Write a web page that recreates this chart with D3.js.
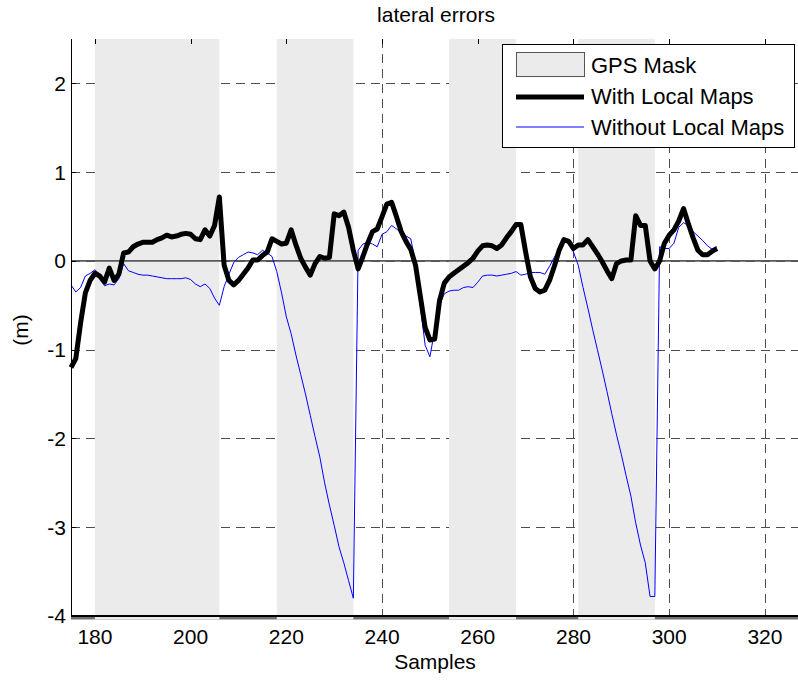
<!DOCTYPE html>
<html>
<head>
<meta charset="utf-8">
<script src="https://cdn.jsdelivr.net/npm/d3@7"></script>
<style>
  body { margin: 0; background: #ffffff; }
  text { font-family: "Liberation Sans", Arial, sans-serif; fill: #000; }
</style>
</head>
<body>
<div id="chart"></div>
<script>

// Figure dimensions and plot box
var width = 798;
var height = 680;
var plotLeft = 71;
var plotRight = 798.4;
var plotTop = 39;
var plotBottom = 616;

// Colours
var maskColor = "#ebebeb";
var gridColor = "#4d4d4d";
var blue = "#0000ff";

// Data
var samplesStart = 175;
var withMaps = [
    -1.20, -1.10, -0.70, -0.36, -0.22, -0.14, -0.17, -0.24, -0.08, -0.22,
    -0.15, 0.09, 0.10, 0.16, 0.19, 0.21, 0.21, 0.21, 0.24, 0.26,
    0.29, 0.27, 0.28, 0.30, 0.31, 0.30, 0.25, 0.24, 0.35, 0.28,
    0.40, 0.72, -0.05, -0.22, -0.27, -0.22, -0.15, -0.08, 0.01, 0.01,
    0.06, 0.10, 0.25, 0.22, 0.19, 0.20, 0.35, 0.18, 0.03, -0.07,
    -0.16, -0.03, 0.05, 0.03, 0.04, 0.53, 0.51, 0.55, 0.38, 0.12,
    -0.09, 0.05, 0.20, 0.33, 0.36, 0.50, 0.64, 0.66, 0.50, 0.33,
    0.22, 0.13, -0.05, -0.40, -0.75, -0.89, -0.88, -0.45, -0.25, -0.18,
    -0.14, -0.10, -0.06, -0.02, 0.03, 0.11, 0.17, 0.18, 0.17, 0.14,
    0.18, 0.26, 0.33, 0.41, 0.41, 0.10, -0.18, -0.31, -0.35, -0.33,
    -0.22, -0.06, 0.12, 0.24, 0.22, 0.14, 0.18, 0.18, 0.24, 0.16,
    0.08, -0.01, -0.11, -0.20, -0.03, 0.00, 0.01, 0.01, 0.51, 0.40,
    0.40, 0.00, -0.09, 0.00, 0.20, 0.29, 0.35, 0.45, 0.59, 0.42,
    0.26, 0.12, 0.07, 0.07, 0.11, 0.14
];
var withoutMaps = [
    -0.27, -0.35, -0.30, -0.17, -0.14, -0.10, -0.15, -0.28, -0.26, -0.27,
    -0.20, -0.03, -0.11, -0.13, -0.15, -0.16, -0.16, -0.17, -0.18, -0.19,
    -0.20, -0.20, -0.20, -0.20, -0.19, -0.21, -0.26, -0.29, -0.26, -0.31,
    -0.42, -0.50, -0.29, -0.15, -0.02, 0.04, 0.07, 0.10, 0.09, 0.07,
    0.12, 0.09, 0.05, -0.12, -0.36, -0.63, -0.82, -1.06, -1.28, -1.50,
    -1.74, -1.98, -2.21, -2.50, -2.75, -2.98, -3.22, -3.40, -3.60, -3.80,
    0.12, 0.19, 0.21, 0.19, 0.16, 0.30, 0.33, 0.40, 0.36, 0.32,
    0.28, 0.25, -0.03, -0.50, -0.95, -1.08, -0.78, -0.50, -0.37, -0.34,
    -0.33, -0.33, -0.30, -0.29, -0.30, -0.24, -0.17, -0.16, -0.16, -0.17,
    -0.16, -0.15, -0.14, -0.12, -0.16, -0.15, -0.13, -0.13, -0.13, -0.15,
    -0.06, 0.04, 0.14, 0.24, 0.23, 0.10, -0.05, -0.30, -0.53, -0.77,
    -1.00, -1.23, -1.47, -1.72, -1.96, -2.18, -2.42, -2.65, -2.95, -3.20,
    -3.40, -3.78, -3.78, 0.16, 0.14, 0.14, 0.20, 0.38, 0.43, 0.40,
    0.33, 0.28, 0.23, 0.17, 0.13, 0.16
];
var maskStarts = [180, 218, 254, 281];
var maskEnds = [206, 234, 268, 297];
var xTicks = [180, 200, 220, 240, 260, 280, 300, 320];
var yTicks = [-4, -3, -2, -1, 0, 1, 2];
var legendLabels = ["GPS Mask", "With Local Maps", "Without Local Maps"];

// Scales
var x = d3.scaleLinear().domain([175, 327]).range([plotLeft, plotRight]);
var y = d3.scaleLinear().domain([-4, 2.5]).range([plotBottom, plotTop]);

var svg = d3.select("#chart")
    .append("svg")
    .attr("width", width)
    .attr("height", height);

// Grid lines (the mask patches are drawn on top of them)
var grid = svg.append("g")
    .attr("stroke", gridColor)
    .attr("stroke-width", 1)
    .attr("stroke-dasharray", "9,6");

grid.selectAll(".vgrid")
    .data(xTicks)
    .enter()
    .append("line")
    .attr("x1", function(d) { return Math.round(x(d)) + 0.5; })
    .attr("x2", function(d) { return Math.round(x(d)) + 0.5; })
    .attr("y1", plotTop)
    .attr("y2", plotBottom);

grid.selectAll(".hgrid")
    .data(yTicks)
    .enter()
    .append("line")
    .attr("x1", plotLeft)
    .attr("x2", width)
    .attr("y1", function(d) { return Math.round(y(d)) + 0.5; })
    .attr("y2", function(d) { return Math.round(y(d)) + 0.5; });

// Bottom edge of the mask area plot
svg.append("line")
    .attr("x1", plotLeft)
    .attr("x2", width)
    .attr("y1", plotBottom + 2)
    .attr("y2", plotBottom + 2)
    .attr("stroke", "#707070")
    .attr("stroke-width", 3);

// GPS mask patches
var masks = d3.zip(maskStarts, maskEnds);
svg.selectAll(".mask")
    .data(masks)
    .enter()
    .append("rect")
    .attr("class", "mask")
    .attr("x", function(d) { return x(d[0]); })
    .attr("width", function(d) { return x(d[1]) - x(d[0]); })
    .attr("y", plotTop)
    .attr("height", plotBottom - plotTop + 3.5)
    .attr("fill", maskColor);

// Zero line
svg.append("line")
    .attr("x1", plotLeft)
    .attr("x2", width)
    .attr("y1", y(0))
    .attr("y2", y(0))
    .attr("stroke", "#5a5a5a")
    .attr("stroke-width", 1.8);

// Series
var line = d3.line()
    .x(function(d, i) { return x(samplesStart + i); })
    .y(function(d) { return y(d); });

svg.append("path")
    .datum(withoutMaps)
    .attr("d", line)
    .attr("fill", "none")
    .attr("stroke", blue)
    .attr("stroke-width", 1);

svg.append("path")
    .datum(withMaps)
    .attr("d", line)
    .attr("fill", "none")
    .attr("stroke", "#000")
    .attr("stroke-width", 5)
    .attr("stroke-linejoin", "round");

// Axes lines
svg.append("line")
    .attr("x1", plotLeft + 0.5).attr("x2", plotLeft + 0.5)
    .attr("y1", plotTop).attr("y2", plotBottom)
    .attr("stroke", "#000");

svg.append("line")
    .attr("x1", plotLeft).attr("x2", width)
    .attr("y1", plotBottom).attr("y2", plotBottom)
    .attr("stroke", "#000")
    .attr("stroke-width", 2);

// Ticks
svg.selectAll(".ytick")
    .data(yTicks)
    .enter()
    .append("line")
    .attr("x1", plotLeft)
    .attr("x2", plotLeft + 5)
    .attr("y1", function(d) { return Math.round(y(d)) + 0.5; })
    .attr("y2", function(d) { return Math.round(y(d)) + 0.5; })
    .attr("stroke", "#000");

svg.selectAll(".xtick")
    .data(xTicks)
    .enter()
    .append("line")
    .attr("x1", function(d) { return Math.round(x(d)) + 0.5; })
    .attr("x2", function(d) { return Math.round(x(d)) + 0.5; })
    .attr("y1", plotTop)
    .attr("y2", plotTop + 5)
    .attr("stroke", "#000");

// Tick labels
svg.selectAll(".ylabel")
    .data(yTicks)
    .enter()
    .append("text")
    .attr("x", plotLeft - 5)
    .attr("y", function(d) { return y(d); })
    .attr("dy", "0.35em")
    .attr("text-anchor", "end")
    .style("font-size", "21px")
    .text(function(d) { return d; });

svg.selectAll(".xlabel")
    .data(xTicks)
    .enter()
    .append("text")
    .attr("x", function(d) { return x(d); })
    .attr("y", 644)
    .attr("text-anchor", "middle")
    .style("font-size", "21px")
    .text(function(d) { return d; });

// Title and axis titles
svg.append("text")
    .attr("x", 436)
    .attr("y", 22)
    .attr("text-anchor", "middle")
    .style("font-size", "21px")
    .text("lateral errors");

svg.append("text")
    .attr("x", 435)
    .attr("y", 669)
    .attr("text-anchor", "middle")
    .style("font-size", "21px")
    .text("Samples");

svg.append("text")
    .attr("transform", "translate(28,330) rotate(-90)")
    .attr("text-anchor", "middle")
    .style("font-size", "21px")
    .text("(m)");

// Legend
var legend = svg.append("g");

legend.append("rect")
    .attr("x", 502.5)
    .attr("y", 44.5)
    .attr("width", 292)
    .attr("height", 103)
    .attr("fill", "#fff")
    .attr("stroke", "#000");

legend.append("rect")
    .attr("x", 516.5)
    .attr("y", 52.5)
    .attr("width", 68)
    .attr("height", 24)
    .attr("fill", maskColor)
    .attr("stroke", "#555");

legend.append("line")
    .attr("x1", 516).attr("x2", 584)
    .attr("y1", 97).attr("y2", 97)
    .attr("stroke", "#000")
    .attr("stroke-width", 5);

legend.append("line")
    .attr("x1", 516).attr("x2", 584)
    .attr("y1", 127).attr("y2", 127)
    .attr("stroke", blue)
    .attr("stroke-width", 1);

legend.selectAll(".legtext")
    .data(legendLabels)
    .enter()
    .append("text")
    .attr("x", 591)
    .attr("y", function(d, i) { return 65 + i * 31; })
    .attr("dy", "0.35em")
    .style("font-size", "22px")
    .text(function(d) { return d; });

</script>
</body>
</html>
